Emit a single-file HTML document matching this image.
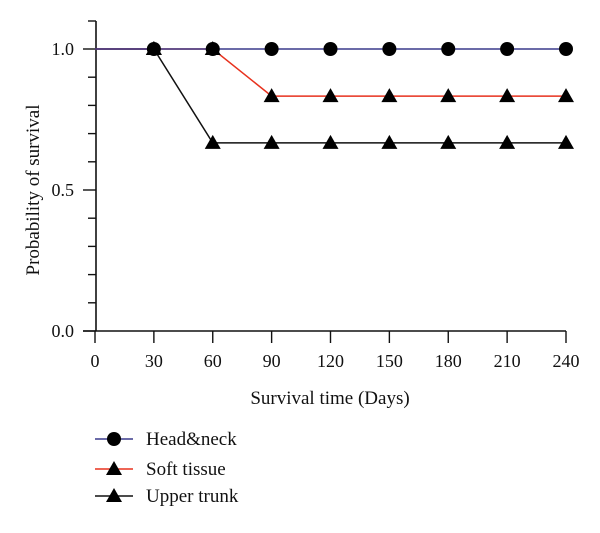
<!DOCTYPE html>
<html><head><meta charset="utf-8"><style>
body{margin:0;background:#fff}
svg text{font-family:"Liberation Serif",serif;fill:#111}
</style></head><body>
<svg id="chart" width="600" height="528" viewBox="0 0 600 528" xmlns="http://www.w3.org/2000/svg">
<g id="axes"></g>
<g id="series"></g>
<text transform="translate(39,190) rotate(-90)" text-anchor="middle" font-size="19">Probability of survival</text>
<text x="330" y="404" text-anchor="middle" font-size="19">Survival time (Days)</text>
<g id="legend"></g>
</svg>
<script>
const days = [0, 30, 60, 90, 120, 150, 180, 210, 240];
const xTicks = [0, 30, 60, 90, 120, 150, 180, 210, 240];
const yTicks = [0.0, 0.5, 1.0];
const yTickLabels = ["0.0", "0.5", "1.0"];
const seriesNames = ["Head&neck", "Soft tissue", "Upper trunk"];
const headNeck = [1, 1, 1, 1, 1, 1, 1, 1, 1];
const softTissue = [1, 1, 1, 0.833, 0.833, 0.833, 0.833, 0.833, 0.833];
const upperTrunk = [1, 1, 0.667, 0.667, 0.667, 0.667, 0.667, 0.667, 0.667];
const markerStart = 1;

const NS = "http://www.w3.org/2000/svg";
const x = d => 95 + d * (566 - 95) / 240;
const y = v => 331 - v * 282;
function mk(tag, attrs, parent){const e=document.createElementNS(NS,tag);for(const k in attrs)e.setAttribute(k,attrs[k]);parent.appendChild(e);return e;}
const axes = document.getElementById('axes');
let e;
e = mk('line',{x1:96,y1:21,x2:96,y2:331,stroke:'#111','stroke-width':1.6},axes);


e = mk('line',{x1:83,y1:331,x2:566,y2:331,stroke:'#111','stroke-width':1.6},axes);


for(let i=0;i<=11;i++){
  const v=i/10; if(y(v)<21) break;
  const major = i%5===0;
  e = mk('line',{x1:major?83:88,y1:y(v),x2:96,y2:y(v),stroke:'#111','stroke-width':1.4},axes);
  
  
}
e = mk('line',{x1:88,y1:21,x2:96,y2:21,stroke:'#111','stroke-width':1.4},axes);


yTicks.forEach((v,i)=>{
  e = mk('text',{x:74,y:y(v)+6,'text-anchor':'end','font-size':18},axes);
  e.textContent = yTickLabels[i];
  
  
});
xTicks.forEach(d=>{
  e = mk('line',{x1:x(d),y1:331,x2:x(d),y2:343,stroke:'#111','stroke-width':1.4},axes);
  
  
  e = mk('text',{x:x(d),y:367,'text-anchor':'middle','font-size':18},axes);
  e.textContent = d;
  
  
});
const series = document.getElementById('series');
function tri(cx,cy,parent){return mk('polygon',{points:`${cx},${cy-8} ${cx-8},${cy+6} ${cx+8},${cy+6}`,fill:'#000'},parent);}
const defs = [[upperTrunk,'#111','tri','upper-trunk'],[softTissue,'#e8321e','tri','soft-tissue'],[headNeck,'#3a3a8c','circ','head-neck']];
defs.forEach(([vals,col,shape,name])=>{
  const g = mk('g',{},series);
  
  
  e = mk('polyline',{points:days.map((d,i)=>x(d)+','+y(vals[i])).join(' '),fill:'none',stroke:col,'stroke-width':1.5},g);
  
  
  days.forEach((d,i)=>{
    if(i<markerStart) return;
    e = shape==='circ' ? mk('circle',{cx:x(d),cy:y(vals[i]),r:7,fill:'#000'},g) : tri(x(d),y(vals[i]),g);
    
    
  });
});
const legend = document.getElementById('legend');
const legCols = ['#3a3a8c','#e8321e','#111'];
const legShapes = ['circ','tri','tri'];
const legY = [439, 469, 496];
seriesNames.forEach((n,i)=>{
  const g = mk('g',{},legend);
  
  
  mk('line',{x1:95,y1:legY[i],x2:133,y2:legY[i],stroke:legCols[i],'stroke-width':1.5},g);
  if(legShapes[i]==='circ') mk('circle',{cx:114,cy:legY[i],r:7,fill:'#000'},g); else tri(114,legY[i],g);
  const t = mk('text',{x:146,y:legY[i]+6,'font-size':19},g);
  t.textContent = n;
});
</script>
</body></html>
